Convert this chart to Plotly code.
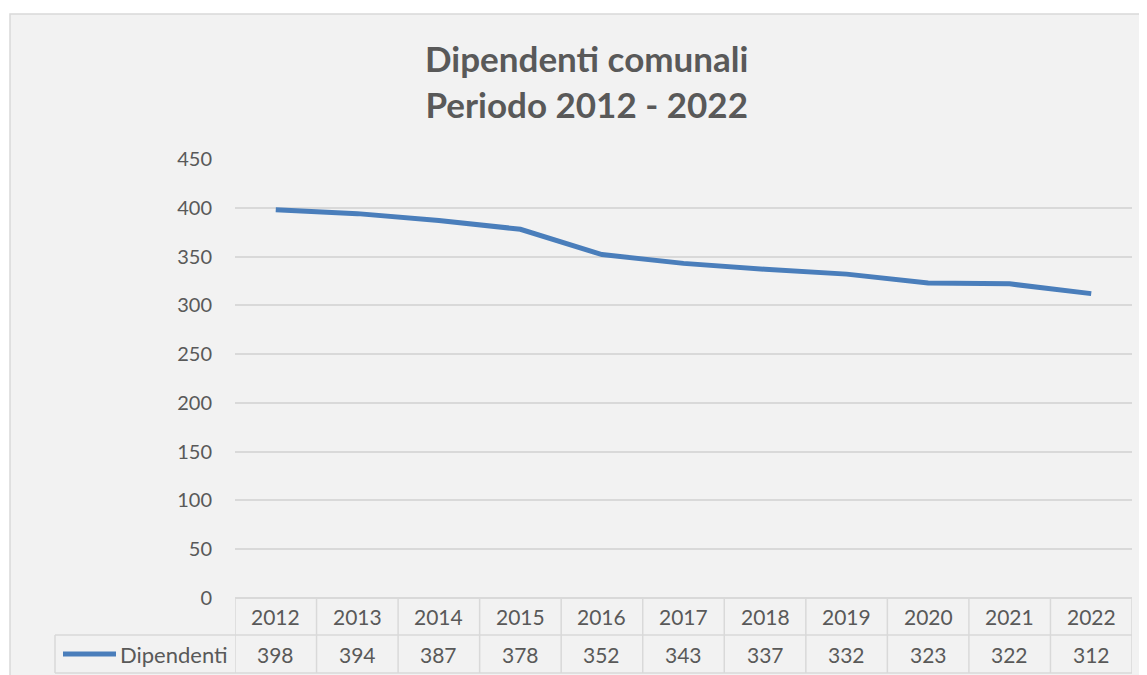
import plotly.graph_objects as go

anni = ["2012", "2013", "2014", "2015", "2016", "2017", "2018", "2019", "2020", "2021", "2022"]
dipendenti = [398, 394, 387, 378, 352, 343, 337, 332, 323, 322, 312]
serie_nome = "Dipendenti"
titolo = "<b>Dipendenti comunali<br>Periodo 2012 - 2022</b>"
y_ticks = [0, 50, 100, 150, 200, 250, 300, 350, 400, 450]

BLU = "#4A7EBB"
GRIGIO_TESTO = "#595959"
GRIGIO_LINEE = "#D9D9D9"
FONT = "Lato"
FS = 21

# the page body has an 8px margin, so the figure starts at (8, 8)
OFF = 8
# plot area in page pixels: x 235..1132, y 159..598
PL, PT, PW, PH = 235, 159, 897, 439
W, H = 1147 - OFF, 675 - OFF


def px_x(px):
    return (px - PL) / PW


def px_y(py):
    return (PT + PH - py) / PH


idx = list(range(len(anni)))

fig = go.Figure()
fig.add_trace(go.Scatter(
    x=idx, y=dipendenti, mode="lines", name=serie_nome,
    line=dict(color=BLU, width=5), showlegend=False, hoverinfo="y",
))

shapes = []
# chart background
shapes.append(dict(type="rect", xref="paper", yref="paper",
                   x0=px_x(10), x1=px_x(1146), y0=px_y(700), y1=px_y(14),
                   fillcolor="#F2F2F2", line=dict(color=GRIGIO_LINEE, width=1.5), layer="below"))

# data table grid
row1_bot = px_y(635)
row2_bot = px_y(673)
legend_left = px_x(55)
for yy in [row1_bot, row2_bot]:
    shapes.append(dict(type="line", xref="paper", yref="paper", x0=legend_left, x1=1,
                       y0=yy, y1=yy, line=dict(color=GRIGIO_LINEE, width=1.5)))
for i in range(len(anni) + 1):
    shapes.append(dict(type="line", xref="x", yref="paper", x0=i - 0.5, x1=i - 0.5,
                       y0=0, y1=row2_bot, line=dict(color=GRIGIO_LINEE, width=1.5)))
shapes.append(dict(type="line", xref="paper", yref="paper", x0=legend_left, x1=legend_left,
                   y0=row1_bot, y1=row2_bot, line=dict(color=GRIGIO_LINEE, width=1.5)))
# legend key
shapes.append(dict(type="line", xref="paper", yref="paper", x0=px_x(63), x1=px_x(116),
                   y0=px_y(654), y1=px_y(654), line=dict(color=BLU, width=5)))

annotations = []
for i, (a, v) in enumerate(zip(anni, dipendenti)):
    annotations.append(dict(x=i, y=px_y(616), xref="x", yref="paper", text=a, showarrow=False,
                            xanchor="center", yanchor="middle",
                            font=dict(size=FS, color=GRIGIO_TESTO, family=FONT)))
    annotations.append(dict(x=i, y=px_y(654), xref="x", yref="paper", text=str(v), showarrow=False,
                            xanchor="center", yanchor="middle",
                            font=dict(size=FS, color=GRIGIO_TESTO, family=FONT)))
annotations.append(dict(x=px_x(230), y=px_y(654), xref="paper", yref="paper", text=serie_nome,
                        xanchor="right", yanchor="middle", showarrow=False,
                        font=dict(size=22, color=GRIGIO_TESTO, family=FONT)))
annotations.append(dict(x=px_x(586), y=px_y(81), xref="paper", yref="paper", text=titolo,
                        xanchor="center", yanchor="middle", showarrow=False,
                        font=dict(size=35, color=GRIGIO_TESTO, family=FONT)))

fig.update_layout(
    width=W, height=H,
    margin=dict(l=PL - OFF, r=W - (PL - OFF) - PW, t=PT - OFF, b=H - (PT - OFF) - PH),
    paper_bgcolor="white", plot_bgcolor="#F2F2F2",
    font=dict(family=FONT, color=GRIGIO_TESTO, size=FS),
    shapes=shapes, annotations=annotations,
    xaxis=dict(range=[-0.5, len(anni) - 0.5], showticklabels=False, showgrid=False,
               zeroline=False, showline=False, fixedrange=True),
    yaxis=dict(range=[0, 450], tickvals=y_ticks, showgrid=True, gridcolor=GRIGIO_LINEE,
               gridwidth=1.5, zeroline=True, zerolinecolor=GRIGIO_LINEE, zerolinewidth=1.5,
               ticks="", ticklabelstandoff=22, tickfont=dict(size=20, color=GRIGIO_TESTO),
               fixedrange=True),
)

fig.write_html("out.html")
